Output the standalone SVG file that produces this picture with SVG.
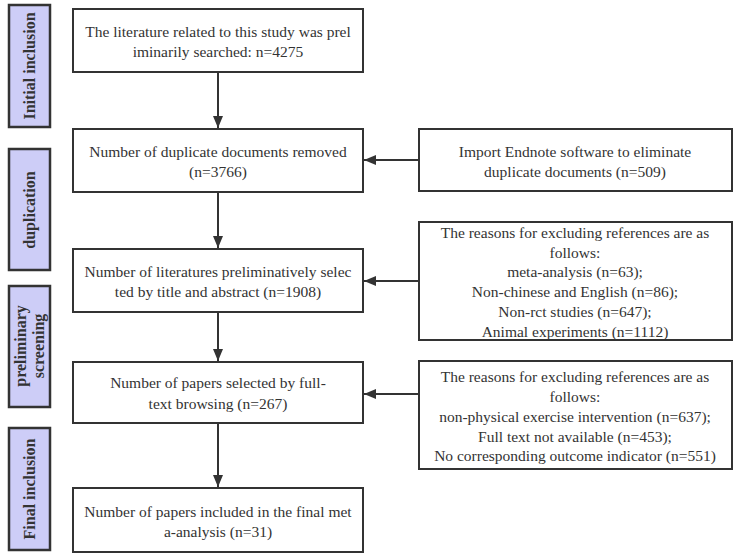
<svg xmlns="http://www.w3.org/2000/svg" width="734" height="556" viewBox="0 0 734 556">
<defs>
<marker id="ah" markerWidth="12" markerHeight="10" refX="12" refY="5" orient="auto" markerUnits="userSpaceOnUse">
<path d="M0,0 L12,5 L0,10 Z" fill="#333"/>
</marker>
<style>
.box{fill:#fff;stroke:#333;stroke-width:2}
.side{fill:#cdcdf7;stroke:#333;stroke-width:2.5}
.t{font-family:"Liberation Serif","Times New Roman",serif;font-size:15.5px;fill:#333;text-anchor:middle}
.s{font-family:"Liberation Serif","Times New Roman",serif;font-size:16px;font-weight:bold;fill:#333;text-anchor:middle}
.c{stroke:#333;stroke-width:2;fill:none}
</style>
</defs>
<rect width="734" height="556" fill="#fff"/>
<g id="side1"><rect class="side" x="9" y="5" width="41" height="122"/><text class="s" transform="translate(35,66) rotate(-90)">Initial inclusion</text></g>
<g id="side2"><rect class="side" x="9" y="149" width="41" height="121"/><text class="s" transform="translate(35,210) rotate(-90)">duplication</text></g>
<g id="side3"><rect class="side" x="9" y="286" width="41" height="121"/><text class="s" transform="translate(26,346) rotate(-90)">preliminary</text><text class="s" transform="translate(44,346) rotate(-90)">screening</text></g>
<g id="side4"><rect class="side" x="9" y="428" width="41" height="122"/><text class="s" transform="translate(35,489) rotate(-90)">Final inclusion</text></g>
<g id="n1"><rect class="box" x="73" y="9" width="290" height="63"/><text class="t" x="218" y="37">The literature related to this study was prel</text><text class="t" x="218" y="57">iminarily searched: n=4275</text></g>
<g id="n2"><rect class="box" x="73" y="129" width="290" height="63"/><text class="t" x="218" y="157">Number of duplicate documents removed</text><text class="t" x="218" y="177">(n=3766)</text></g>
<g id="n3"><rect class="box" x="73" y="249" width="290" height="63"/><text class="t" x="218" y="277">Number of literatures preliminatively selec</text><text class="t" x="218" y="297">ted by title and abstract (n=1908)</text></g>
<g id="n4"><rect class="box" x="73" y="362" width="290" height="61"/><text class="t" x="218" y="388">Number of papers selected by full-</text><text class="t" x="218" y="409">text browsing (n=267)</text></g>
<g id="n5"><rect class="box" x="73" y="488" width="290" height="64"/><text class="t" x="218" y="517">Number of papers included in the final met</text><text class="t" x="218" y="537">a-analysis (n=31)</text></g>
<g id="r1"><rect class="box" x="419" y="129" width="313" height="62"/><text class="t" x="575" y="157">Import Endnote software to eliminate</text><text class="t" x="575" y="177">duplicate documents (n=509)</text></g>
<g id="r2"><rect class="box" x="419" y="222" width="313" height="118"/><text class="t" x="575" y="238">The reasons for excluding references are as</text><text class="t" x="575" y="258">follows:</text><text class="t" x="575" y="277">meta-analysis (n=63);</text><text class="t" x="575" y="297">Non-chinese and English (n=86);</text><text class="t" x="575" y="317">Non-rct studies (n=647);</text><text class="t" x="575" y="337">Animal experiments (n=1112)</text></g>
<g id="r3"><rect class="box" x="419" y="361" width="313" height="108"/><text class="t" x="575" y="382">The reasons for excluding references are as</text><text class="t" x="575" y="402">follows:</text><text class="t" x="575" y="422">non-physical exercise intervention (n=637);</text><text class="t" x="575" y="442">Full text not available (n=453);</text><text class="t" x="575" y="461">No corresponding outcome indicator (n=551)</text></g>
<g id="connectors">
<line class="c" x1="218" y1="72" x2="218" y2="128" marker-end="url(#ah)"/>
<line class="c" x1="218" y1="192" x2="218" y2="248" marker-end="url(#ah)"/>
<line class="c" x1="218" y1="312" x2="218" y2="361" marker-end="url(#ah)"/>
<line class="c" x1="218" y1="423" x2="218" y2="487" marker-end="url(#ah)"/>
<line class="c" x1="419" y1="160" x2="364" y2="160" marker-end="url(#ah)"/>
<line class="c" x1="419" y1="281" x2="364" y2="281" marker-end="url(#ah)"/>
<line class="c" x1="419" y1="394" x2="364" y2="394" marker-end="url(#ah)"/>
</g>
</svg>
